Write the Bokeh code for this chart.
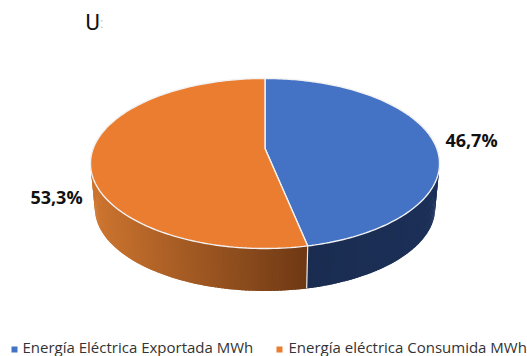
import numpy as np
from bokeh.plotting import figure
from bokeh.embed import file_html
from bokeh.resources import INLINE
from bokeh.core.properties import value

series_names = ["Energía Eléctrica Exportada MWh", "Energía eléctrica Consumida MWh"]
series_values = [46.7, 53.3]
series_labels = ["46,7%", "53,3%"]
series_colors = ["#4472C4", "#EB7D31"]

W, H = 527, 356
p = figure(width=W, height=H, x_range=(0, W), y_range=(H, 0),
           output_backend="svg", toolbar_location=None,
           min_border=0, outline_line_color=None, background_fill_color="white")
p.axis.visible = False
p.grid.visible = False

CX, CY = 264.5, 148.0
K, A = 0.176, 82.4
B = 171.8
DEPTH, SHRINK = 45.0, 0.975


def rim(theta, bottom=False):
    u, v = np.sin(theta), -np.cos(theta)
    d = 1 - K * v
    s = SHRINK if bottom else 1.0
    return CX + s * B * u / d, CY + (DEPTH if bottom else 0) + s * A * v / d


total = sum(series_values)
edges = np.concatenate([[0], np.cumsum(series_values)]) / total * 2 * np.pi


def mix(c1, c2, t):
    t = min(max(t, 0), 1)
    return "#%02x%02x%02x" % tuple(int(round(a + (b - a) * t)) for a, b in zip(c1, c2))


# side wall, drawn as overlapping thin strips for a smooth shade
xs, ys, cols = [], [], []
ths = np.radians(np.arange(60, 300.01, 1.0))
step = ths[1] - ths[0]
for a in ths[:-1]:
    t = np.array([a, a + 1.8 * step])
    x1, y1 = rim(t)
    x2, y2 = rim(t[::-1], True)
    xs.append(np.concatenate([x1, x2]).tolist())
    ys.append(np.concatenate([y1, y2]).tolist())
    xm = x1.mean()
    if a + step / 2 < edges[1]:
        cols.append(mix((0x1a, 0x2c, 0x50), (0x1c, 0x30, 0x58), (xm - 306) / 130))
    else:
        cols.append(mix((0x6e, 0x39, 0x14), (0xcc, 0x74, 0x2f), (306 - xm) / 212))
p.patches(xs, ys, fill_color=cols, line_color=None)

# separator on the wall
bx, by = rim(np.array([edges[1]]))
bx2, by2 = rim(np.array([edges[1]]), True)
p.line([bx[0], bx2[0]], [by[0], by2[0]], line_color="#e8e8e8", line_width=1.2)

# top face
for i, c in enumerate(series_colors):
    t = np.linspace(edges[i], edges[i + 1], 160)
    x, y = rim(t)
    p.patch(np.r_[CX, x].tolist(), np.r_[CY, y].tolist(), fill_color=c,
            line_color="#f2f2f2", line_width=1.4)

FONT = value("Open Sans")
# title, cut off in the original
p.text([85], [22], text=["U"], text_font=value("Roboto"), text_font_size="22px",
       text_color="#111111", text_baseline="middle", text_align="left")
p.text([99.5], [22], text=[":"], text_font=value("Roboto"), text_font_size="14px",
       text_color="#c4c4c4", text_baseline="middle", text_align="left")

# data labels
p.text([471, 56], [139.5, 196], text=series_labels, text_font=FONT, text_font_size="18px",
       text_font_style="bold", text_color="#111111", text_align="center",
       text_baseline="middle")

# legend
p.scatter([14, 279], [349, 349], marker="square", size=6, fill_color=series_colors,
          line_color=None)
p.text([22, 288], [346.5, 346.5], text=series_names, text_font=FONT, text_font_size="15px",
       text_color="#333333", text_baseline="middle", text_align="left")

open("out.html", "w").write(file_html(p, INLINE))
